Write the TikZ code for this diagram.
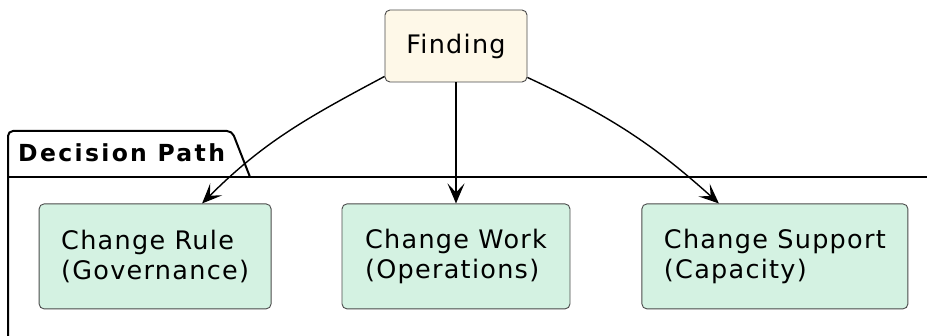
\documentclass[tikz,border=0pt]{standalone}
\usepackage{fontspec}
\setmainfont{DejaVu Sans}[LetterSpace=5]
\newfontfamily\tabfont{DejaVu Sans Bold}[LetterSpace=10]
\usetikzlibrary{positioning,arrows.meta}

\definecolor{findfill}{RGB}{254,248,232}
\definecolor{pathfill}{RGB}{212,242,226}
\definecolor{boxline}{RGB}{75,75,75}

\begin{document}
\begin{tikzpicture}
  [x=1pt, y=1pt,
   box/.style={rectangle, rounded corners=5pt,
     draw=boxline, line width=0.9pt,
     font=\fontsize{25.5}{30}\selectfont,
     align=left, inner sep=0pt},
   find/.style={box, fill=findfill,
     minimum width=142pt, minimum height=72pt},
   choice/.style={box, fill=pathfill,
     minimum height=105pt},
   link/.style={line width=1.4pt,
     -{Stealth[length=20pt, width=17pt, inset=9pt]}}]

  \useasboundingbox (0,0) rectangle (927,335);

  % package frame, runs off the page
  \draw[line width=2pt, rounded corners=5pt]
    (8,-10) -- (8,204) -- (232,204) -- (250,158);
  \draw[line width=2.6pt] (8,158) -- (940,158);
  \node[anchor=base west, inner sep=0pt,
    font=\fontsize{23.5}{28}\selectfont]
    (tab) at (18,173) {\tabfont Decision Path};

  \node[find] (find) at (456,289) {Finding};
  \node[choice, minimum width=228pt, below=121pt of find]
    (work) {Change Work\\(Operations)};
  \node[choice, minimum width=232pt, left=70pt of work]
    (rule) {Change Rule\\(Governance)};
  \node[choice, minimum width=266pt, right=71pt of work]
    (supp) {Change Support\\(Capacity)};

  \path[link]
    ([yshift=6pt]find.south west) edge[out=208, in=45]
      ([xshift=47pt]rule.north)
    (find) edge (work)
    ([yshift=5pt]find.south east) edge[out=-25, in=138]
      ([xshift=-56pt]supp.north);
\end{tikzpicture}
\end{document}
